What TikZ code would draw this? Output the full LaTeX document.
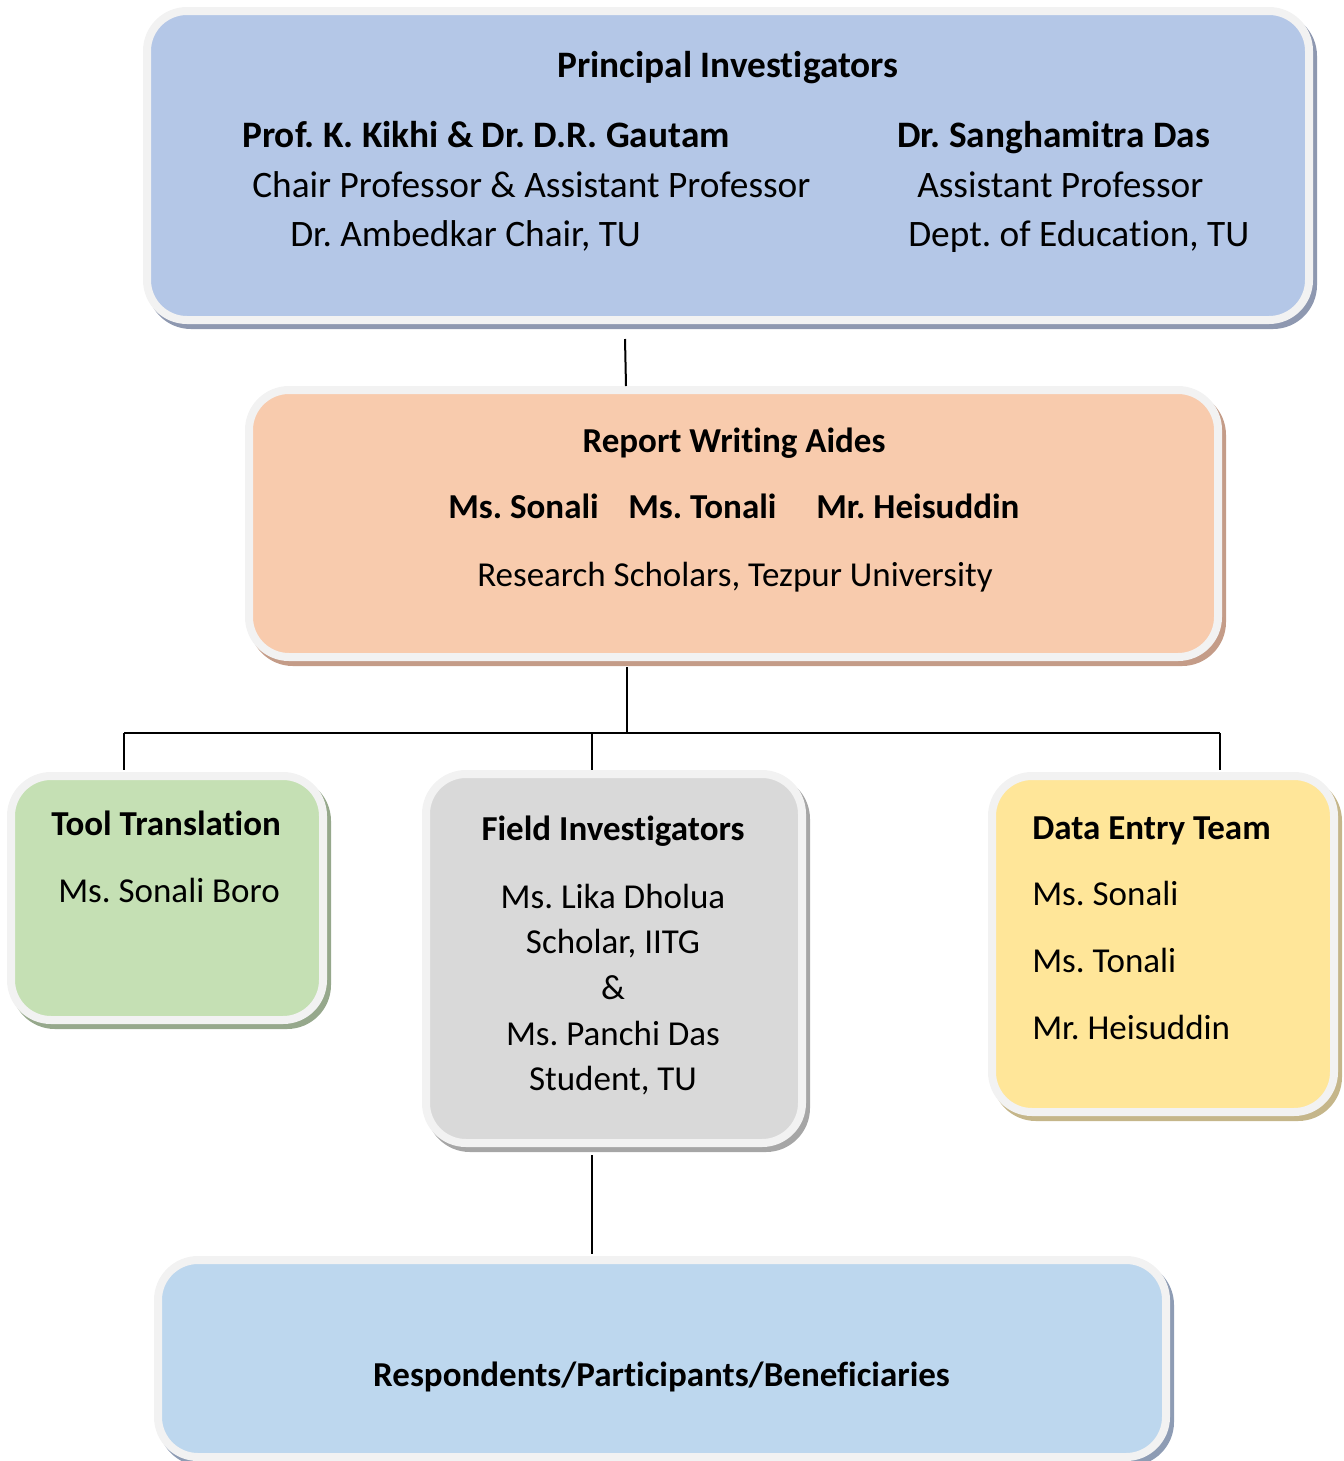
\documentclass[tikz,border=0pt]{standalone}
\usepackage{fontspec}
\setmainfont{Carlito}[Ligatures={NoCommon}]
\frenchspacing
\definecolor{bordc}{HTML}{F2F2F2}
\definecolor{piblue}{HTML}{B4C7E7}
\definecolor{pishad}{HTML}{8E98B0}
\definecolor{rwpeach}{HTML}{F8CBAD}
\definecolor{rwshad}{HTML}{C49C88}
\definecolor{ttgreen}{HTML}{C5E0B4}
\definecolor{ttshad}{HTML}{96A88C}
\definecolor{figray}{HTML}{D9D9D9}
\definecolor{fishad}{HTML}{A6A6A6}
\definecolor{deyellow}{HTML}{FFE699}
\definecolor{deshad}{HTML}{C5B68A}
\definecolor{rpblue}{HTML}{BDD7EE}
\definecolor{rpshad}{HTML}{8E9CB4}
\tikzset{
  orgbox/.style n args={4}{rectangle, rounded corners=30pt, draw=bordc, line width=6pt,
    fill=#1, minimum width=#3*0.75pt, minimum height=#4*0.75pt, inner sep=0pt, outer sep=0pt,
    preaction={draw=#2, fill=#2, line width=6pt, transform canvas={shift={(3pt,-3.75pt)}}}},
  txt/.style={font=\fontsize{26.25}{31}\selectfont\frenchspacing, inner sep=0pt, anchor=mid},
  txtl/.style={txt, anchor=mid west},
  btxt/.style={txt, font=\fontsize{26.25}{31}\selectfont\bfseries\frenchspacing},
  btxtl/.style={btxt, anchor=mid west},
  ptxtl/.style={txtl, font=\fontsize{28}{33}\selectfont\frenchspacing},
  pbtxt/.style={txt, font=\fontsize{28}{33}\selectfont\bfseries\frenchspacing},
  pbtxtl/.style={pbtxt, anchor=mid west},
  conn/.style={line width=1.5pt, black}
}
\begin{document}
\begin{tikzpicture}[x=0.75pt, y=-0.75pt]
\useasboundingbox (0,0) rectangle (1344,1461);
% boxes
\node[orgbox={piblue}{pishad}{1162}{309}] (pi) at (728,165.5) {};
\node[orgbox={rwpeach}{rwshad}{969}{267}] (rw) at (733.5,523.5) {};
\node[orgbox={ttgreen}{ttshad}{312}{244}] (tt) at (167,898) {};
\node[orgbox={figray}{fishad}{376}{369}] (fi) at (614,958.5) {};
\node[orgbox={deyellow}{deshad}{342}{336}] (de) at (1163,944) {};
\node[orgbox={rpblue}{rpshad}{1008}{197}] (rp) at (662,1358.5) {};
% PI texts
\node[pbtxt] (pititle) at (728,74) {Principal Investigators};
\node[pbtxtl] (pia1) at (242,144) {Prof. K. Kikhi \& Dr. D.R. Gautam};
\node[ptxtl] (pia2) at (252,194) {Chair Professor \& Assistant Professor};
\node[ptxtl] (pia3) at (290,243) {Dr. Ambedkar Chair, TU};
\node[pbtxtl] (pib1) at (897,144) {Dr. Sanghamitra Das};
\node[ptxtl] (pib2) at (917,194) {Assistant Professor};
\node[ptxtl] (pib3) at (908,243) {Dept. of Education, TU};
% Report writing
\node[btxt] (rwtitle) at (734,449) {Report Writing Aides};
\node[btxtl] (rw1) at (448,515) {Ms. Sonali};
\node[btxtl] (rw2) at (628,515) {Ms. Tonali};
\node[btxtl] (rw3) at (816,515) {Mr. Heisuddin};
\node[txtl] (rw4) at (477,583) {Research Scholars, Tezpur University};
% Tool translation
\node[btxtl] (tttitle) at (51,832) {Tool Translation};
\node[txtl] (tt1) at (58,899) {Ms. Sonali Boro};
% Field investigators
\node[btxt] (fititle) at (613,837) {Field Investigators};
\node[txt] (fi1) at (613,905) {Ms. Lika Dholua};
\node[txt] (fi2) at (613,950) {Scholar, IITG};
\node[txt] (fi3) at (613,996) {\&};
\node[txt] (fi4) at (613,1042) {Ms. Panchi Das};
\node[txt] (fi5) at (613,1087) {Student, TU};
% Data entry
\node[btxtl] (detitle) at (1032,836) {Data Entry Team};
\node[txtl] (de1) at (1032,902) {Ms. Sonali};
\node[txtl] (de2) at (1032,969) {Ms. Tonali};
\node[txtl] (de3) at (1032,1036) {Mr. Heisuddin};
% Respondents
\node[btxt] (rptitle) at (661.5,1383) {Respondents/Participants/Beneficiaries};
% connector coordinates
\coordinate (piout) at (625,339);
\coordinate (rwin) at (626,386);
\coordinate (rwout) at (627,667);
\coordinate (jmid) at (627,733);
\coordinate (jl) at (124,733);
\coordinate (jc) at (592,733);
\coordinate (jr) at (1220,733);
\coordinate (ttin) at (124,770);
\coordinate (fiin) at (592,770);
\coordinate (dein) at (1220,770);
\coordinate (fiout) at (592,1155);
\coordinate (rpin) at (592,1254);
\draw[conn] (piout) -- (rwin);
\draw[conn] (rwout) -- (jmid);
\draw[conn] (jl) -- (jr);
\draw[conn] (jl) -- (ttin);
\draw[conn] (jc) -- (fiin);
\draw[conn] (jr) -- (dein);
\draw[conn] (fiout) -- (rpin);
\end{tikzpicture}
\end{document}
